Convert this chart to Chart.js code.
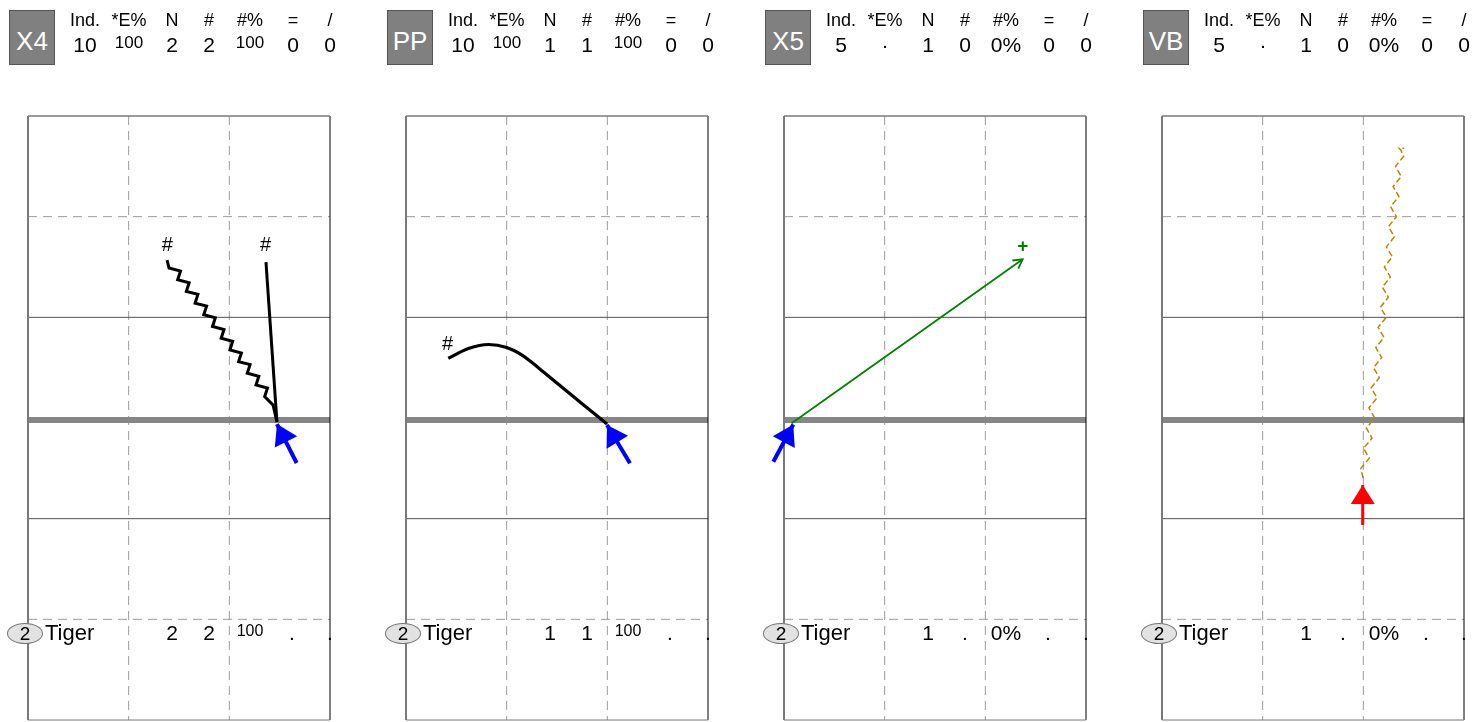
<!DOCTYPE html>
<html>
<head>
<meta charset="utf-8">
<title>Play cards</title>
<script src="https://cdn.jsdelivr.net/npm/chart.js@4.4.1/dist/chart.umd.min.js"></script>
<style>
  html, body { margin: 0; padding: 0; background: #fff; overflow: hidden; }
  body { position: relative; width: 1473px; height: 722px; font-family: "Liberation Sans", Arial, sans-serif; color: #000; }
  .panel { position: absolute; top: 0; width: 378px; height: 722px; }
  .panel .plot { position: absolute; left: 0; top: 0; width: 378px; height: 722px; }
  .tag { position: absolute; left: 9px; top: 10px; width: 44px; height: 53px; background: #808080; border: 1px solid #555;
         color: #fff; font-size: 26px; line-height: 60px; text-align: center; }
  .txt { position: absolute; transform: translateX(-50%); line-height: 1; white-space: nowrap; }
  .badge { position: absolute; left: 7px; top: 623px; width: 34px; height: 19px; border: 1px solid #777; border-radius: 50%;
           background: #e2e2e2; font-size: 19px; line-height: 20px; text-align: center; }
</style>
</head>
<body>
<script>
  // header / footer values
  const panelTags = ["X4", "PP", "X5", "VB"];
  const statHeaders = ["Ind.", "*E%", "N", "#", "#%", "=", "/"];
  const x4Stats = ["10", "100", "2", "2", "100", "0", "0"];
  const ppStats = ["10", "100", "1", "1", "100", "0", "0"];
  const x5Stats = ["5", "·", "1", "0", "0%", "0", "0"];
  const vbStats = ["5", "·", "1", "0", "0%", "0", "0"];
  const playerNumber = "2";
  const playerName = "Tiger";
  const x4Row = ["2", "2", "100", ".", "."];
  const ppRow = ["1", "1", "100", ".", "."];
  const x5Row = ["1", ".", "0%", ".", "."];
  const vbRow = ["1", ".", "0%", ".", "."];

  // field markings (x 0..30 across, y 0..60 up)
  const hashColumns = [10, 20];
  const dashedYardLines = [10, 50];
  const solidYardLines = [20, 40];
  const scrimmageLine = 29.8;

  // X4 routes
  const x4WavyRoute = [[13.81, 45.69], [14.01, 44.9], [15.15, 44.6], [14.87, 43.74], [16.01, 43.44], [15.73, 42.58],
    [16.88, 42.28], [16.6, 41.41], [17.74, 41.11], [17.46, 40.25], [18.61, 39.95], [18.33, 39.09], [19.47, 38.79],
    [19.19, 37.93], [20.33, 37.63], [20.06, 36.76], [21.2, 36.46], [20.92, 35.6], [22.06, 35.3], [21.78, 34.44],
    [22.93, 34.14], [22.65, 33.28], [23.79, 32.98], [23.51, 32.12], [24.34, 31.29], [24.73, 29.6]];
  const x4StraightRoute = [[23.64, 45.49], [24.73, 29.6]];
  const x4Runner = [[26.69, 25.53], [24.73, 29.4]];
  const x4Marks = [["#", 13.84, 47.1], ["#", 23.61, 47.1]];

  // PP route
  const ppCurveRoute = [[4.2, 35.93], [6.2, 36.9], [8.2, 37.3], [10.0, 37.0], [11.6, 36.2], [13.2, 34.95],
    [15.2, 33.3], [17.4, 31.5], [19.97, 29.4]];
  const ppRunner = [[22.25, 25.5], [19.97, 29.3]];
  const ppMarks = [["#", 4.14, 37.3]];

  // X5 route
  const x5PassRoute = [[0.76, 29.47], [23.71, 45.76]];
  const x5Runner = [[-1.06, 25.66], [0.92, 29.35]];
  const x5Marks = [["+", 23.71, 47.0]];

  // VB route
  const vbDashedRoute = [[19.97, 24.04], [19.75, 25], [20.59, 26], [20.03, 27], [20.86, 28], [20.3, 29], [21.13, 30],
    [20.55, 31], [21.36, 32], [20.78, 33], [21.59, 34], [21.01, 35], [21.82, 36], [21.24, 37], [22.05, 38], [21.47, 39],
    [22.28, 40], [21.69, 41], [22.49, 42], [21.89, 43], [22.69, 44], [22.09, 45], [22.89, 46], [22.29, 47], [23.09, 48],
    [22.49, 49], [23.29, 50], [22.71, 51], [23.53, 52], [22.95, 53], [23.77, 54], [23.19, 55], [24.01, 56], [23.74, 56.6],
    [23.55, 56.8], [24.05, 56.8]];
  const vbRunner = [[19.94, 19.37], [19.94, 23.34]];

  const PANEL_STEP = 378;
  const statCols = [85, 129, 172, 209, 250, 293, 330];
  const rowCols = [172, 209, 250, 292, 330];

  // arrow heads at the last point of a dataset
  const arrowHeads = {
    id: "arrowHeads",
    afterDatasetsDraw(chart) {
      const ctx = chart.ctx;
      chart.data.datasets.forEach((ds, i) => {
        if (!ds.head) return;
        const pts = chart.getDatasetMeta(i).data;
        const tip = pts[pts.length - 1];
        const prev = pts[pts.length - 2];
        const ang = Math.atan2(tip.y - prev.y, tip.x - prev.x);
        const bx = tip.x - Math.cos(ang) * ds.head.length;
        const by = tip.y - Math.sin(ang) * ds.head.length;
        const nx = -Math.sin(ang) * ds.head.width / 2;
        const ny = Math.cos(ang) * ds.head.width / 2;

        ctx.save();
        ctx.beginPath();
        if (ds.head.open) {
          ctx.moveTo(bx + nx, by + ny);
          ctx.lineTo(tip.x, tip.y);
          ctx.lineTo(bx - nx, by - ny);
          ctx.strokeStyle = ds.borderColor;
          ctx.lineWidth = ds.borderWidth;
          ctx.stroke();
        } else {
          ctx.moveTo(tip.x, tip.y);
          ctx.lineTo(bx + nx, by + ny);
          ctx.lineTo(bx - nx, by - ny);
          ctx.closePath();
          ctx.fillStyle = ds.borderColor;
          ctx.fill();
        }
        ctx.restore();
      });
    },
  };

  // small text marks at route ends
  const routeMarks = {
    id: "routeMarks",
    afterDatasetsDraw(chart, args, opts) {
      const { ctx, scales } = chart;
      ctx.save();
      ctx.textAlign = "center";
      ctx.textBaseline = "middle";
      (opts.marks || []).forEach(([text, x, y]) => {
        ctx.font = text === "+" ? "bold 19px 'Liberation Sans', Arial" : "20px 'Liberation Sans', Arial";
        ctx.fillStyle = opts.color || "#000";
        ctx.fillText(text, scales.x.getPixelForValue(x), scales.y.getPixelForValue(y));
      });
      ctx.restore();
    },
  };

  function seg(points, color, width, extra) {
    return Object.assign({
      data: points.map(([x, y]) => ({ x, y })),
      borderColor: color,
      borderWidth: width,
      showLine: true,
      pointRadius: 0,
      fill: false,
      clip: false,
      tension: 0,
      borderCapStyle: "butt",
      order: 5,
    }, extra);
  }

  function fieldDatasets() {
    const sets = [];
    hashColumns.forEach((c) => sets.push(seg([[c, 60], [c, 0]], "#9c9c9c", 1, { borderDash: [9, 6], order: 20 })));
    dashedYardLines.forEach((y) => sets.push(seg([[0, y], [30, y]], "#9c9c9c", 1, { borderDash: [9, 6], order: 20 })));
    solidYardLines.forEach((y) => sets.push(seg([[0, y], [30, y]], "#505050", 1, { order: 19 })));
    sets.push(seg([[0, scrimmageLine], [30, scrimmageLine]], "#868686", 6, { order: 18 }));
    sets.push(seg([[0, 0], [0, 60]], "#7a7a7a", 2, { order: 17 }));
    sets.push(seg([[0, 60], [30, 60]], "#7a7a7a", 1.5, { order: 17 }));
    sets.push(seg([[0, 0], [30, 0]], "#7a7a7a", 1, { order: 17 }));
    sets.push(seg([[30, 0], [30, 60]], "#000", 1, { order: 17 }));
    return sets;
  }

  const blueHead = { length: 20, width: 25 };

  const panels = [
    {
      stats: x4Stats, row: x4Row, marks: x4Marks, markColor: "#000",
      routes: [
        seg(x4WavyRoute, "#000", 3, { borderJoinStyle: "miter" }),
        seg(x4StraightRoute, "#000", 3),
        seg(x4Runner, "#0000ff", 4, { head: blueHead, order: 1 }),
      ],
    },
    {
      stats: ppStats, row: ppRow, marks: ppMarks, markColor: "#000",
      routes: [
        seg(ppCurveRoute, "#000", 3.2, { cubicInterpolationMode: "monotone" }),
        seg(ppRunner, "#0000ff", 4, { head: blueHead, order: 1 }),
      ],
    },
    {
      stats: x5Stats, row: x5Row, marks: x5Marks, markColor: "#008000",
      routes: [
        seg(x5PassRoute, "#008000", 1.8, { head: { length: 9, width: 10, open: true } }),
        seg(x5Runner, "#0000ff", 4, { head: blueHead, order: 1 }),
      ],
    },
    {
      stats: vbStats, row: vbRow, marks: [], markColor: "#000",
      routes: [
        seg(vbDashedRoute, "#b8860b", 1.5, { borderDash: [6, 3] }),
        seg(vbRunner, "#ff0000", 3, { head: { length: 19, width: 24 }, order: 1 }),
      ],
    },
  ];

  function addText(parent, text, left, top, size, extra) {
    const el = document.createElement("div");
    el.className = "txt";
    el.textContent = text;
    el.style.left = left + "px";
    el.style.top = top + "px";
    el.style.fontSize = size + "px";
    if (extra) Object.assign(el.style, extra);
    parent.appendChild(el);
  }

  panels.forEach((panel, idx) => {
    const wrap = document.createElement("div");
    wrap.className = "panel";
    wrap.style.left = idx * PANEL_STEP + "px";
    document.body.appendChild(wrap);

    const plot = document.createElement("div");
    plot.className = "plot";
    const canvas = document.createElement("canvas");
    plot.appendChild(canvas);
    wrap.appendChild(plot);

    const tag = document.createElement("div");
    tag.className = "tag";
    tag.textContent = panelTags[idx];
    wrap.appendChild(tag);

    statHeaders.forEach((h, i) => addText(wrap, h, statCols[i], 11, 18));
    panel.stats.forEach((v, i) => {
      if (v === "100") addText(wrap, v, statCols[i], 34, 17);
      else addText(wrap, v, statCols[i], 34, 21);
    });

    const badge = document.createElement("div");
    badge.className = "badge";
    badge.textContent = playerNumber;
    wrap.appendChild(badge);
    addText(wrap, playerName, 45, 622, 22, { transform: "none" });
    panel.row.forEach((v, i) => {
      if (v === "100") addText(wrap, v, rowCols[i], 623, 16);
      else addText(wrap, v, rowCols[i], 622, 21);
    });

    new Chart(canvas, {
      type: "scatter",
      data: { datasets: fieldDatasets().concat(panel.routes) },
      options: {
        responsive: true,
        maintainAspectRatio: false,
        animation: false,
        events: [],
        layout: { padding: { left: 28, right: 48, top: 116, bottom: 2 } },
        scales: {
          x: { type: "linear", min: 0, max: 30, display: false },
          y: { type: "linear", min: 0, max: 60, display: false },
        },
        plugins: {
          legend: { display: false },
          tooltip: { enabled: false },
          routeMarks: { marks: panel.marks, color: panel.markColor },
        },
      },
      plugins: [arrowHeads, routeMarks],
    });
  });
</script>
</body>
</html>
